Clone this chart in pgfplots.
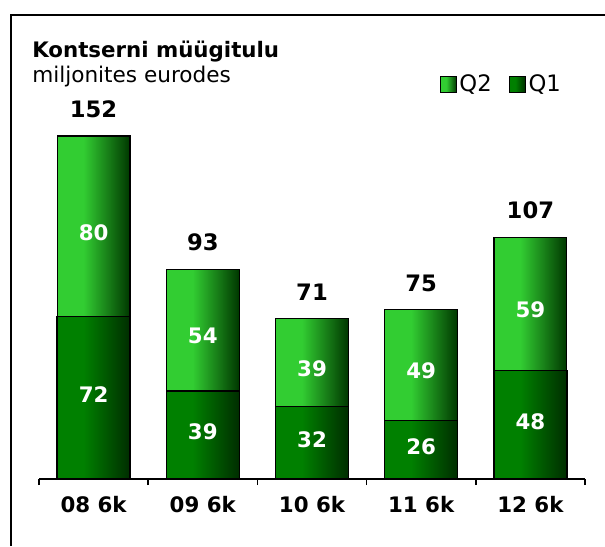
\documentclass[border=0pt]{standalone}
\usepackage{pgfplots}
\pgfplotsset{compat=1.18}
\usepackage{pgfplotstable}
\usepackage{fontspec}
\setmainfont{DejaVu Sans}

\definecolor{qtwoL}{RGB}{50,205,50}
\definecolor{qtwoD}{RGB}{0,55,0}
\definecolor{qoneL}{RGB}{0,128,0}
\definecolor{qoneD}{RGB}{0,45,0}
\pgfdeclarehorizontalshading{qtwo}{100bp}{color(0bp)=(qtwoL); color(25bp)=(qtwoL); color(43bp)=(qtwoL); color(75bp)=(qtwoD); color(100bp)=(qtwoD)}
\pgfdeclarehorizontalshading{qone}{100bp}{color(0bp)=(qoneL); color(25bp)=(qoneL); color(43bp)=(qoneL); color(75bp)=(qoneD); color(100bp)=(qoneD)}

\newcommand\numfont{\bfseries\fontsize{16}{16}\selectfont}

% x q1 q2 total
\pgfplotstableread{
x q1 q2 tot
0 72 80 152
1 39 54 93
2 32 39 71
3 26 49 75
4 48 59 107
}\salesdata

\begin{document}
\begin{tikzpicture}
\useasboundingbox (0,0) rectangle (453.75pt,409.5pt);
\draw[line width=1.5pt] (8.25pt,0) -- (8.25pt,398.6pt) -- (453.75pt,398.6pt);
\node[anchor=base west, inner sep=0pt, font=\bfseries\fontsize{16}{16}\selectfont] at (24pt,366pt) {Kontserni müügitulu};
\node[anchor=base west, inner sep=0pt, font=\fontsize{16.2}{16}\selectfont] at (24pt,347.25pt) {miljonites eurodes};

\begin{axis}[
    at={(29.25pt,50.25pt)}, anchor=south west,
    scale only axis, width=409.5pt, height=338.5pt,
    xmin=-0.5, xmax=4.5, ymin=0, ymax=200,
    ybar, bar width=0.668,
    axis x line=bottom, axis y line=none,
    x axis line style={-, line width=1.2pt},
    xtick={0,...,4},
    xticklabels={08 6k,09 6k,10 6k,11 6k,12 6k},
    major tick length=0pt,
    minor xtick={-0.5,0.5,...,4.5},
    minor tick length=4.5pt, tick align=outside,
    minor x tick style={line width=1.2pt, black},
    xticklabel style={font=\numfont, inner sep=0pt, anchor=north, yshift=-13pt},
    clip=false,
    legend columns=2,
    legend style={at={(0.734,0.875)}, anchor=west, draw=none, fill=none,
        font=\fontsize{17}{17}\selectfont, inner sep=0pt,
        /tikz/every even column/.append style={column sep=11pt}},
    legend image code/.code={\draw[#1, draw=black, line width=0.6pt] (0pt,-6pt) rectangle (12pt,6pt);},
]
% Q2 sits on Q1: bar to q1+q2 first, then q1 on top of it, one bar per plot
\pgfplotsinvokeforeach{0,...,4}{
  \addplot[draw=black, line width=0.9pt, shading=qtwo, bar shift=0pt, forget plot,
      restrict x to domain=#1:#1]
      table[x=x, y expr=\thisrow{q1}+\thisrow{q2}] {\salesdata};
  \addplot[draw=black, line width=1pt, shading=qone, bar shift=0pt, forget plot,
      restrict x to domain=#1:#1]
      table[x=x, y=q1] {\salesdata};
}
\addlegendimage{draw=black, shading=qtwo}
\addlegendentry{Q2}
\addlegendimage{draw=black, shading=qone}
\addlegendentry{Q1}
\end{axis}

\begin{axis}[
    at={(29.25pt,50.25pt)}, anchor=south west,
    scale only axis, width=409.5pt, height=338.5pt,
    xmin=-0.5, xmax=4.5, ymin=0, ymax=200,
    hide axis, clip=false,
]
\addplot[only marks, mark=text, text mark={},
    nodes near coords, point meta=explicit symbolic,
    every node near coord/.append style={anchor=center, inner sep=0pt, yshift=2.5pt, text=white, font=\numfont}]
    table[x=x, y expr=\thisrow{q1}/2, meta=q1] {\salesdata};
\addplot[only marks, mark=text, text mark={},
    nodes near coords, point meta=explicit symbolic,
    every node near coord/.append style={anchor=center, inner sep=0pt, yshift=-4.5pt, text=white, font=\numfont}]
    table[x=x, y expr=\thisrow{q1}+\thisrow{q2}/2, meta=q2] {\salesdata};
\addplot[only marks, mark=text, text mark={},
    nodes near coords, point meta=explicit symbolic,
    every node near coord/.append style={anchor=south, inner sep=0pt, yshift=13.5pt, text=black, font=\bfseries\fontsize{17}{17}\selectfont}]
    table[x=x, y=tot, meta=tot] {\salesdata};
\end{axis}
\end{tikzpicture}
\end{document}
